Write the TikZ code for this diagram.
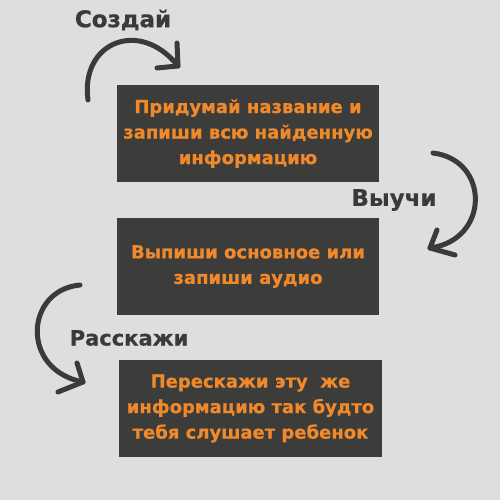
\documentclass[tikz,border=0pt]{standalone}
\usepackage{fontspec}
\setmainfont{DejaVu Sans}
\newfontfamily\heavyfont{DejaVu Sans Bold}[FakeBold=0.6]
\usepackage{tikz}
\definecolor{bggray}{HTML}{DEDEDE}
\definecolor{boxgray}{HTML}{3C3C3A}
\definecolor{textorange}{HTML}{F0892B}
\definecolor{inkgray}{HTML}{3A3A3A}

\begin{document}
\begin{tikzpicture}[x=1pt, y=-1pt,
        stepbox/.style = {fill = boxgray, minimum width = 262pt, minimum height = 97pt, align = center,
            text = textorange, font = \fontsize{18}{25.5}\selectfont\heavyfont, inner sep = 0pt},
        steplabel/.style = {text = inkgray, font = \fontsize{23}{26}\selectfont\heavyfont, inner sep = 0pt},
        curvearrow/.style = {draw = inkgray, line width = 5pt, line cap = round, line join = round}]
        \fill[bggray] (0,0) rectangle (500,500);
        \useasboundingbox (0,0) rectangle (500,500);

        \node[stepbox] (idea) at (248, 133.5) {Придумай название и\\запиши всю найденную\\информацию};
        \node[stepbox] (notes) at (248, 266.5) {Выпиши основное или\\запиши аудио};
        \node[stepbox, minimum width = 263pt] (retell) at (250.5, 408.5) {Перескажи эту~ же\\информацию так будто\\тебя слушает ребенок};

        \node[steplabel] (create) at (123, 20) {Создай};
        \node[steplabel] (learn) at (394, 200) {Выучи};
        \node[steplabel, font = \fontsize{21}{26}\selectfont\heavyfont] (tell) at (129, 338) {Расскажи};

        % first arrow
        \coordinate (a1s) at (88, 100);
        \coordinate (a1t) at (178, 66);
        \draw[curvearrow] (a1s) .. controls (80, 42) and (140, 18) .. (a1t);
        \draw[curvearrow] (177, 43) -- (a1t) -- (157, 68);

        % second arrow
        \coordinate (a2s) at (433, 153);
        \coordinate (a2t) at (430, 248);
        \draw[curvearrow] (a2s) .. controls (490, 160) and (490, 240) .. (a2t);
        \draw[curvearrow] (437, 230) -- (a2t) -- (455, 255);

        % third arrow
        \coordinate (a3s) at (80, 285);
        \coordinate (a3t) at (83, 382);
        \draw[curvearrow] (a3s) .. controls (25, 290) and (20, 370) .. (a3t);
        \draw[curvearrow] (77, 363) -- (a3t) -- (58, 392);
    \end{tikzpicture}
\end{document}
